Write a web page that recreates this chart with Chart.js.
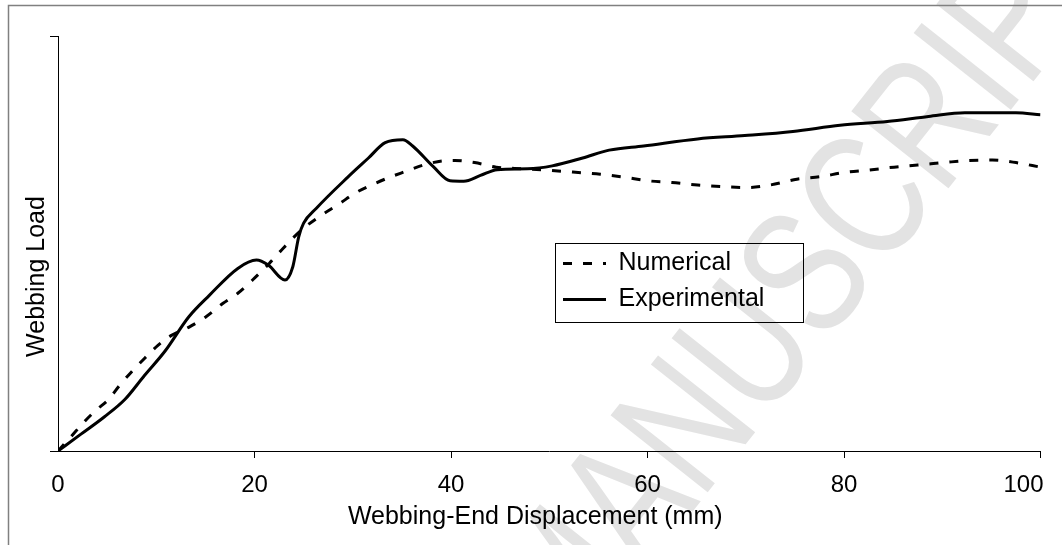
<!DOCTYPE html>
<html>
<head>
<meta charset="utf-8">
<script src="https://cdn.jsdelivr.net/npm/chart.js@4.4.1/dist/chart.umd.min.js"></script>
<style>
  html, body { margin: 0; padding: 0; background: #ffffff; }
  canvas { display: block; }
</style>
</head>
<body>
<canvas id="chart" width="1062" height="545"></canvas>
<script>
// ---- data (load in % of axis height) ----
const seriesNames = ['Numerical', 'Experimental'];
const xTitle = 'Webbing-End Displacement (mm)';
const yTitle = 'Webbing Load';
const xTicks = [0, 20, 40, 60, 80, 100];
const watermarkText = 'MANUSCRIPT';

const numericalX = [0, 1.3, 2.7, 3.9, 5.1, 6.3, 7.5, 8.8, 10.2, 11.5, 13.3, 15.1, 16.8, 18.3, 19.8, 21.5, 22.9, 24.8, 26.8, 28.6, 30.2, 32.1, 33.8, 35.3, 37.2, 39.2, 40.4, 42.4, 44.6, 47.4, 49.7, 52.4, 55.2, 57.6, 60.1, 62.5, 65.1, 67.6, 70.2, 72.5, 75.2, 77.6, 80.0, 82.5, 85.1, 87.5, 90.2, 92.6, 95.1, 97.5, 100];
const numericalY = [0, 3.4, 7.1, 9.9, 12.3, 15.9, 19.1, 22.3, 25.5, 27.8, 29.8, 32.4, 35.6, 38.0, 41.2, 45.2, 48.8, 53.3, 56.8, 59.5, 62.1, 64.3, 66.0, 67.3, 68.9, 69.9, 70.0, 69.5, 68.4, 68.0, 67.7, 67.2, 66.7, 66.0, 65.1, 64.7, 64.1, 63.7, 63.5, 64.1, 65.5, 66.1, 67.1, 67.7, 68.4, 68.9, 69.5, 70.0, 70.1, 69.5, 68.4];

const experimentalX = [0, 2.3, 4.7, 6.8, 8.8, 10.9, 13.3, 15.4, 18.3, 20.2, 21.4, 23.1, 23.9, 24.5, 25.0, 26.3, 29.5, 31.6, 33.3, 35.1, 36.1, 38.2, 39.9, 41.3, 43.0, 44.7, 47.8, 50.3, 53.4, 56.1, 59.6, 65.1, 69.9, 74.8, 79.6, 84.4, 88.6, 92.3, 97.5, 100];
const experimentalY = [0, 4.0, 8.2, 12.4, 18.2, 24.1, 32.3, 37.5, 44.0, 46.0, 44.8, 41.2, 44.4, 51.6, 54.9, 58.5, 66.0, 70.6, 74.3, 75.0, 73.5, 68.5, 65.1, 65.0, 66.4, 67.8, 68.0, 68.7, 70.6, 72.5, 73.5, 75.2, 76.0, 77.0, 78.5, 79.4, 80.6, 81.5, 81.5, 81.0];

const FONT = "'Liberation Sans', Arial, Helvetica, sans-serif";

function toPoints(xs, ys) { return xs.map((x, i) => ({ x: x, y: ys[i] })); }

// shift where a scale draws its title (the reference titles are off-centre)
function shiftTitle(scale, dx, dy) {
  if (!scale || scale.$titleShifted) return;
  const orig = scale.drawTitle;
  scale.drawTitle = function () {
    const l = this.left, r = this.right, t = this.top, b = this.bottom;
    this.left += dx; this.right += dx; this.top += dy; this.bottom += dy;
    try { orig.call(this); } finally { this.left = l; this.right = r; this.top = t; this.bottom = b; }
  };
  scale.$titleShifted = true;
}

// background: outer frame + faint watermark
const backdropPlugin = {
  id: 'backdrop',
  beforeDraw(chart) {
    const ctx = chart.ctx;
    ctx.save();
    ctx.fillStyle = '#ffffff';
    ctx.fillRect(0, 0, chart.width, chart.height);
    // watermark
    ctx.font = '180px ' + FONT;
    ctx.fillStyle = '#e3e3e3';
    ctx.translate(872, 205);
    ctx.rotate(-51.6 * Math.PI / 180);
    ctx.scale(0.76, 1);
    const pre = ctx.measureText('MANUS').width + ctx.measureText('C').width / 2;
    ctx.textBaseline = 'middle';
    ctx.textAlign = 'left';
    ctx.fillText(watermarkText, -pre, 0);
    ctx.restore();
    // outer frame (top and left edges visible)
    ctx.save();
    ctx.strokeStyle = '#808080';
    ctx.lineWidth = 1.5;
    ctx.beginPath();
    ctx.moveTo(8.5, chart.height + 2);
    ctx.lineTo(8.5, 5.5);
    ctx.lineTo(chart.width + 2, 5.5);
    ctx.stroke();
    ctx.restore();

    // last x tick label sits inside the frame (right aligned on its tick)
    const xs = chart.scales.x;
    const items = xs.getLabelItems();
    if (items && items.length) {
      const last = items[items.length - 1];
      last.options.textAlign = 'right';
      last.options.translation[0] = xs.getPixelForValue(xTicks[xTicks.length - 1]) + 3;
    }
  }
};

// legend placed inside the plot with a box around it
const legendPlacePlugin = {
  id: 'legendPlace',
  afterLayout(chart) {
    shiftTitle(chart.scales.y, 0, 33);
    shiftTitle(chart.scales.x, -14, 0);
    const lg = chart.legend;
    if (!lg) return;
    lg.left = 552; lg.top = 240;
    lg.width = 260; lg.height = 100;
    lg.right = lg.left + lg.width; lg.bottom = lg.top + lg.height;
  },
  afterDraw(chart) {
    const lg = chart.legend;
    if (!lg) return;
    const ctx = chart.ctx;
    ctx.save();
    ctx.strokeStyle = '#000000';
    ctx.lineWidth = 1;
    ctx.strokeRect(lg.left + 3.5, lg.top + 3.5, 248, 79);
    ctx.restore();
  }
};

new Chart(document.getElementById('chart'), {
  type: 'line',
  data: {
    datasets: [
      {
        label: seriesNames[0],
        data: toPoints(numericalX, numericalY),
        borderColor: '#000000',
        backgroundColor: '#000000',
        borderWidth: 3,
        borderDash: [9, 11],
        pointRadius: 0,
        fill: false,
        cubicInterpolationMode: 'monotone'
      },
      {
        label: seriesNames[1],
        data: toPoints(experimentalX, experimentalY),
        borderColor: '#000000',
        backgroundColor: '#000000',
        borderWidth: 3,
        pointRadius: 0,
        fill: false,
        cubicInterpolationMode: 'monotone'
      }
    ]
  },
  options: {
    responsive: false,
    animation: false,
    devicePixelRatio: 1,
    layout: { padding: { left: 10, right: 21.5, top: 36, bottom: 4 } },
    plugins: {
      legend: {
        display: true,
        position: 'chartArea',
        align: 'start',
        labels: {
          usePointStyle: true,
          pointStyle: 'line',
          pointStyleWidth: 43,
          boxWidth: 43,
          boxHeight: 25,
          padding: 11,
          color: '#000000',
          font: { family: FONT, size: 25 },
          generateLabels(chart) {
            const items = Chart.defaults.plugins.legend.labels.generateLabels(chart);
            items.forEach((it) => {
              const ds = chart.data.datasets[it.datasetIndex];
              it.lineDash = ds.borderDash || [];
              it.lineDashOffset = 0;
              it.lineWidth = ds.borderWidth;
              it.strokeStyle = ds.borderColor;
              it.fillStyle = ds.borderColor;
              it.pointStyle = 'line';
            });
            return items;
          }
        }
      },
      tooltip: { enabled: false },
      title: { display: false }
    },
    scales: {
      x: {
        type: 'linear',
        min: 0,
        max: 100,
        afterFit(scale) { scale.height = 90; scale.paddingLeft = 0; scale.paddingRight = 0; },
        afterBuildTicks(scale) { scale.ticks = xTicks.map(v => ({ value: v })); },
        ticks: {
          color: '#000000',
          font: { family: FONT, size: 24 },
          padding: 12.6,
          maxRotation: 0,
          autoSkip: false
        },
        grid: {
          drawOnChartArea: false,
          drawTicks: true,
          tickLength: 7,
          color: (c) => (c.tick && c.tick.value === 0 ? 'rgba(0,0,0,0)' : '#000000'),
          lineWidth: 1
        },
        border: { display: true, color: '#000000', width: 1 },
        title: {
          display: true,
          text: xTitle,
          color: '#000000',
          font: { family: FONT, size: 25 },
          padding: { top: 0, bottom: 9 }
        }
      },
      y: {
        type: 'linear',
        min: 0,
        max: 100,
        afterFit(scale) { scale.width = 48; scale.paddingTop = 0; scale.paddingBottom = 0; },
        ticks: { display: false, stepSize: 100 },
        grid: {
          drawOnChartArea: false,
          drawTicks: true,
          tickLength: 8,
          color: '#000000',
          lineWidth: 1
        },
        border: { display: true, color: '#000000', width: 1 },
        title: {
          display: true,
          text: yTitle,
          color: '#000000',
          font: { family: FONT, size: 25 },
          padding: { top: 12, bottom: 0 }
        }
      }
    }
  },
  plugins: [backdropPlugin, legendPlacePlugin]
});
</script>
</body>
</html>
